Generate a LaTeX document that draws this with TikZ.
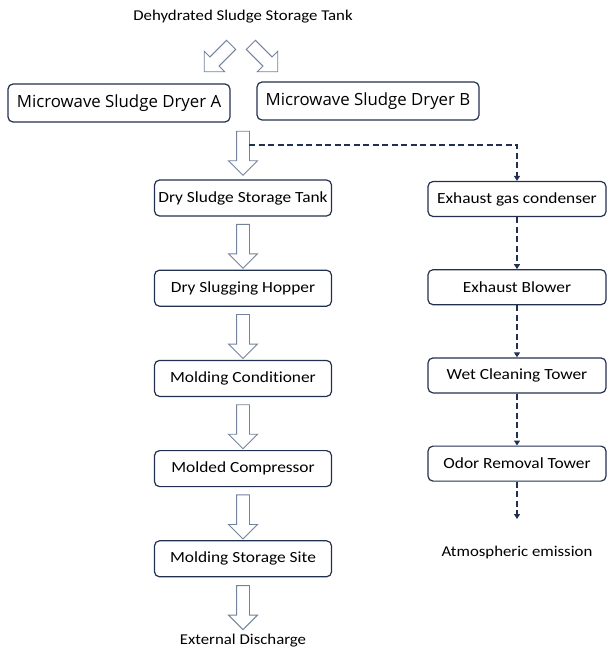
\documentclass[tikz,border=0pt]{standalone}
\usepackage{fontspec}
\setmainfont{Carlito}[Ligatures=NoCommon, FakeStretch=1.12]
\newfontfamily\dryerfont{Open Sans}
\usetikzlibrary{positioning, arrows.meta, shapes.arrows, calc}
\definecolor{navy}{HTML}{22304F}
\definecolor{arrgray}{HTML}{74839C}

\begin{document}
\begin{tikzpicture}[x=1pt, y=1pt,
  node distance=53pt and 10mm,
  box/.style={draw=navy, line width=1.2pt, rounded corners=5pt, minimum width=177pt,
    minimum height=36pt, align=center, font=\fontsize{15.5}{18}\selectfont},
  bigbox/.style={box, minimum width=222pt, minimum height=38pt,
    font=\dryerfont\fontsize{16.8}{19}\selectfont},
  txt/.style={font=\fontsize{15}{18}\selectfont},
  harrow/.style={single arrow, draw=arrgray, line width=0.9pt, fill=white,
    inner xsep=0pt, inner ysep=6pt, minimum height=44pt, single arrow head extend=8pt},
  darr/.style={-{Triangle[length=5pt, width=6pt]}, draw=navy, line width=1.6pt,
    dash pattern=on 6pt off 3.5pt}
]
  \useasboundingbox (0,0) rectangle (608,-650);

  \node[txt] (src) at (243,-17) {Dehydrated Sludge Storage Tank};
  \node[harrow, minimum height=38pt, rotate=225] (toA) at (220,-56) {};
  \node[harrow, minimum height=38pt, rotate=-45] (toB) at (262,-56) {};

  \node[bigbox] (dryA) at (119,-103) {Microwave Sludge Dryer A};
  \node[bigbox] (dryB) at (368,-101) {Microwave Sludge Dryer B};

  \node[harrow, rotate=-90] (dn0) at (243,-150) {};
  \coordinate (split) at (249,-145);

  % solid product line
  \node[box] (tank) at (243,-198) {Dry Sludge Storage Tank};
  \node[box, below=of tank] (hopper) {Dry Slugging Hopper};
  \node[box, below=of hopper] (cond1) {Molding Conditioner};
  \node[box, below=of cond1] (press) {Molded Compressor};
  \node[box, below=of press] (store) {Molding Storage Site};

  \node[harrow, rotate=-90] (dn1) at ($(tank.south)!.5!(hopper.north)$) {};
  \node[harrow, rotate=-90] (dn2) at ($(hopper.south)!.5!(cond1.north)$) {};
  \node[harrow, rotate=-90] (dn3) at ($(cond1.south)!.5!(press.north)$) {};
  \node[harrow, rotate=-90] (dn4) at ($(press.south)!.5!(store.north)$) {};
  \node[harrow, rotate=-90] (dn5) at ($(store.south)+(0,-27)$) {};
  \node[txt] (ext) at (243,-641) {External Discharge};

  % exhaust gas line
  \node[box, minimum width=178pt, minimum height=35pt] (gcond) at (517,-199) {Exhaust gas condenser};
  \node[box, minimum width=178pt, minimum height=35pt, below=52pt of gcond] (blow) {Exhaust Blower};
  \node[box, minimum width=178pt, minimum height=35pt, below=52pt of blow] (wet) {Wet Cleaning Tower};
  \node[box, minimum width=178pt, minimum height=35pt, below=52pt of wet] (odor) {Odor Removal Tower};
  \coordinate (vent) at (517,-519);
  \node[txt] (atm) at (517,-552) {Atmospheric emission};

  \draw[darr] (split) -| (gcond.north);
  \draw[darr] (gcond) -- (blow);
  \draw[darr] (blow) -- (wet);
  \draw[darr] (wet) -- (odor);
  \draw[darr] (odor) -- (vent);
\end{tikzpicture}
\end{document}
